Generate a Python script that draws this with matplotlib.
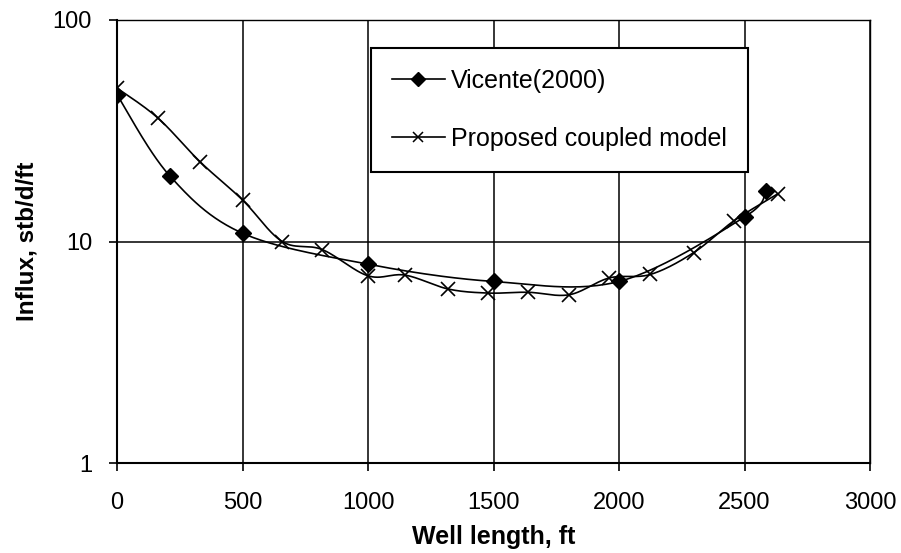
import numpy as np
import matplotlib
matplotlib.use("Agg")
import matplotlib.pyplot as plt
from matplotlib.ticker import FixedLocator, NullLocator, FixedFormatter

plt.rcParams['font.family'] = ['Liberation Sans', 'DejaVu Sans']

# Vicente (2000) influx profile
vicente_x = [0, 210, 500, 1000, 1500, 2000, 2500, 2585]
vicente_y = [46.0, 19.8, 10.9, 7.9, 6.6, 6.6, 12.9, 16.9]

# Proposed coupled model influx profile
coupled_x = [0, 163, 331, 500, 658, 817, 1000, 1148, 1320, 1480, 1637,
             1802, 1962, 2125, 2297, 2458, 2632]
coupled_y = [49.3, 36.1, 22.9, 15.4, 10.0, 9.2, 7.0, 7.05, 6.1, 5.85, 5.9,
             5.75, 6.85, 7.1, 8.9, 12.4, 16.4]

x_ticks = [0, 500, 1000, 1500, 2000, 2500, 3000]
y_ticks = [1, 10, 100]
y_tick_labels = ['1', '10', '100']

# screen-space scaling used for the smoothed curve (x linear, y log)
SX = 753.0 / 3000.0
SY = 221.5


def smooth(xs, ys, n=30):
    """Catmull-Rom style Bezier smoothing computed in display proportions."""
    p = np.column_stack([np.asarray(xs, float) * SX,
                         np.log10(np.asarray(ys, float)) * SY])
    out = [p[0]]
    m = len(p)
    t = np.linspace(0, 1, n)[1:, None]
    for i in range(m - 1):
        p0 = p[i - 1] if i > 0 else p[i]
        p1 = p[i]
        p2 = p[i + 1]
        p3 = p[i + 2] if i + 2 < m else p[i + 1]
        c1 = p1 + (p2 - p0) / 6.0
        c2 = p2 - (p3 - p1) / 6.0
        seg = ((1 - t) ** 3) * p1 + 3 * ((1 - t) ** 2) * t * c1 \
            + 3 * (1 - t) * t ** 2 * c2 + t ** 3 * p2
        out.extend(seg)
    out = np.array(out)
    return out[:, 0] / SX, 10 ** (out[:, 1] / SY)


fig = plt.figure(figsize=(9.01, 5.53), dpi=100)
ax = fig.add_axes([117 / 901, 1 - 463 / 553, 753 / 901, 443 / 553])

ax.set_xscale('linear')
ax.set_yscale('log')
ax.set_xlim(0, 3000)
ax.set_ylim(1, 100)

ax.xaxis.set_major_locator(FixedLocator(x_ticks))
ax.yaxis.set_major_locator(FixedLocator(y_ticks))
ax.yaxis.set_major_formatter(FixedFormatter(y_tick_labels))
ax.yaxis.set_minor_locator(NullLocator())
ax.xaxis.set_minor_locator(NullLocator())

ax.grid(True, which='major', color='black', linewidth=1.1)
ax.set_axisbelow(True)
for s in ax.spines.values():
    s.set_color('black')
    s.set_linewidth(1.0)
ax.spines['bottom'].set_linewidth(1.5)
ax.spines['left'].set_linewidth(1.5)

ax.tick_params(axis='both', direction='out', length=6, width=1.2,
               labelsize=17, colors='black')
ax.tick_params(axis='x', pad=15)
ax.tick_params(axis='y', pad=12)

# smoothed curves
vx, vy = smooth(vicente_x, vicente_y)
cx, cy = smooth(coupled_x, coupled_y)
ax.plot(vx, vy, color='black', lw=1.2, zorder=3)
ax.plot(cx, cy, color='black', lw=1.2, zorder=3)
ax.plot(vicente_x, vicente_y, linestyle='none', marker='D', color='black',
        markersize=8, zorder=4)
ax.plot(coupled_x, coupled_y, linestyle='none', marker='x', color='black',
        markersize=10, markeredgewidth=1.2, zorder=4)

# legend proxies
h1, = ax.plot([], [], color='black', lw=1.2, marker='D', markersize=7)
h2, = ax.plot([], [], color='black', lw=1.2, marker='x', markersize=7,
              markeredgewidth=1.1)
leg = ax.legend([h1, h2], ['Vicente(2000)', 'Proposed coupled model'],
                loc='upper left', bbox_to_anchor=(0.337, 0.937),
                fontsize=18, frameon=True, fancybox=False, framealpha=1,
                edgecolor='black', handlelength=2.1, handletextpad=0.25,
                labelspacing=1.35, borderpad=0.85, borderaxespad=0)
leg.get_frame().set_linewidth(1.5)
leg.set_zorder(5)

ax.set_xlabel('Well length, ft', fontsize=18, fontweight='bold', labelpad=8)
ax.set_ylabel('Influx, stb/d/ft', fontsize=17.5, fontweight='bold', labelpad=10)

fig.savefig('out.png', dpi=100)
